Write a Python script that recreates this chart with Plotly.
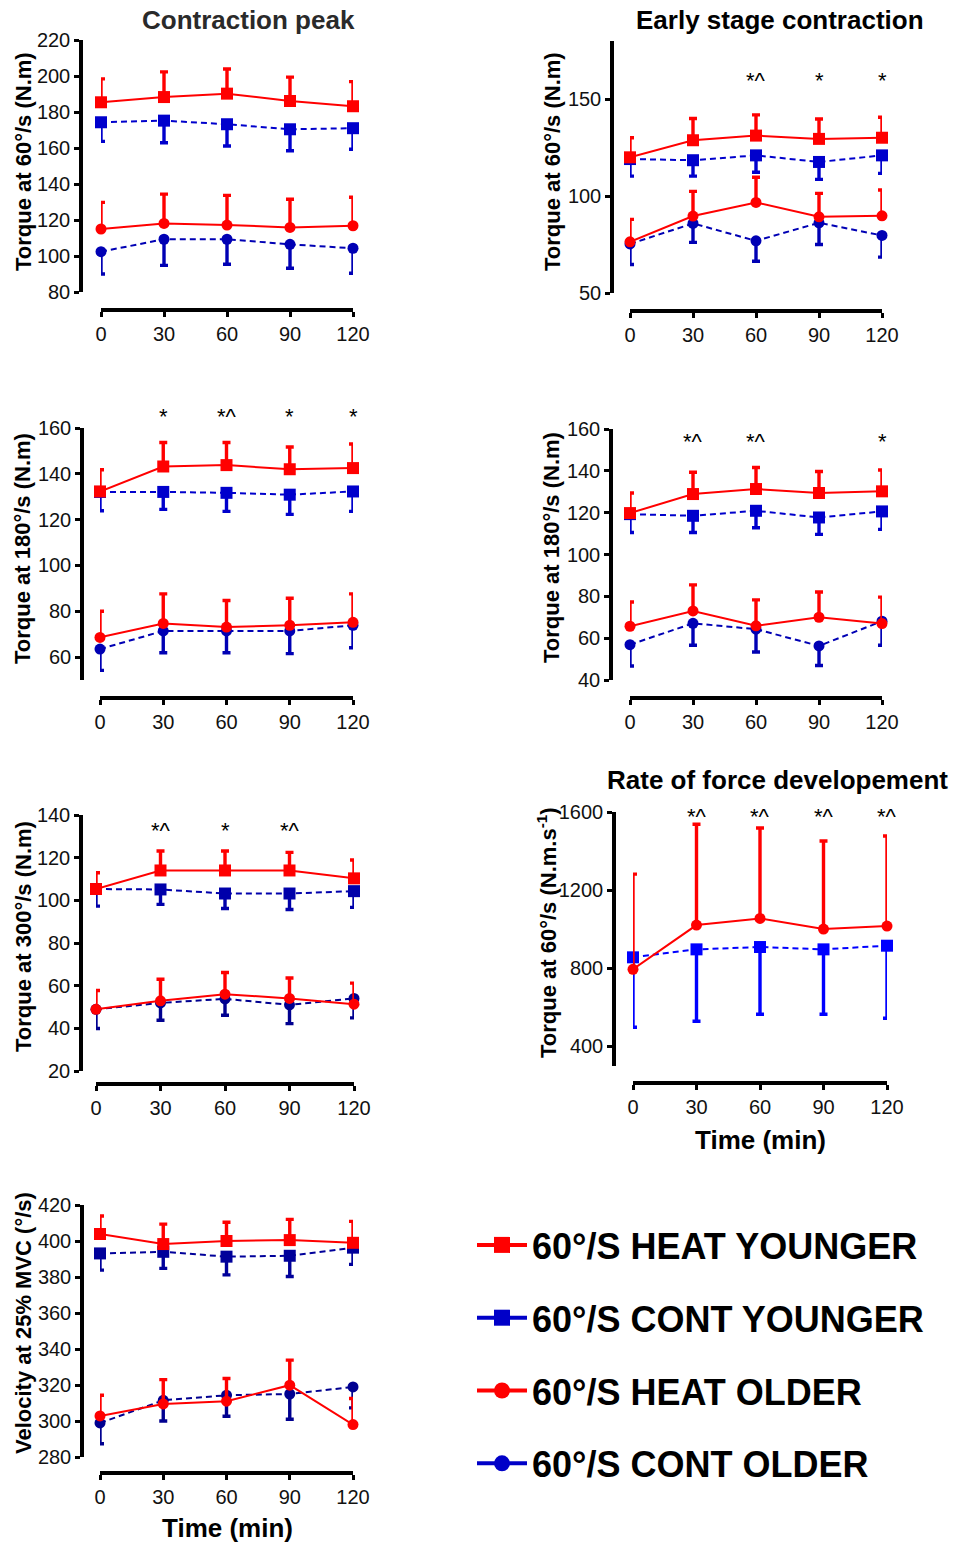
import plotly.graph_objects as go

W, H = 953, 1544
FONT = "Arial, Liberation Sans, Helvetica, sans-serif"

# ---------------- data ----------------
TIME = [0, 30, 60, 90, 120]
XTICKS = [0, 30, 60, 90, 120]

# Panel 1: Contraction peak, torque at 60 deg/s
P1_HY = [185.4, 188.3, 190.2, 186.1, 183.2]
P1_HY_SD = [13.0, 14.0, 13.7, 13.3, 13.7]
P1_CY = [174.3, 175.2, 173.2, 170.4, 171.0]
P1_CY_SD = [10.6, 12.3, 12.1, 11.9, 11.7]
P1_HO = [115.0, 118.1, 117.2, 115.9, 116.8]
P1_HO_SD = [14.8, 16.3, 16.5, 15.6, 15.8]
P1_CO = [102.4, 109.3, 109.3, 106.5, 104.3]
P1_CO_SD = [12.4, 14.5, 13.9, 13.3, 13.9]
P1_YTICKS = [80, 100, 120, 140, 160, 180, 200, 220]

# Panel 2: Early stage contraction, torque at 60 deg/s
P2_HY = [120.0, 128.8, 131.2, 129.5, 130.1]
P2_HY_SD = [10.1, 11.2, 10.7, 10.3, 10.6]
P2_CY = [119.1, 118.5, 121.0, 117.6, 121.0]
P2_CY_SD = [8.8, 8.2, 8.7, 9.0, 9.3]
P2_HO = [76.4, 89.7, 96.7, 89.3, 89.8]
P2_HO_SD = [11.6, 12.7, 13.0, 12.1, 13.3]
P2_CO = [75.3, 85.9, 76.9, 86.2, 79.7]
P2_CO_SD = [10.6, 9.8, 10.5, 11.2, 11.2]
P2_YTICKS = [50, 100, 150]
P2_SIG = ["", "", "*^", "*", "*"]

# Panel 3: torque at 180 deg/s (contraction peak)
P3_HY = [132.3, 143.2, 143.8, 142.0, 142.5]
P3_HY_SD = [9.5, 10.5, 9.9, 9.7, 10.5]
P3_CY = [132.1, 132.1, 131.7, 130.9, 132.3]
P3_CY_SD = [8.2, 7.6, 8.1, 8.6, 8.7]
P3_HO = [68.6, 74.7, 73.1, 73.9, 75.2]
P3_HO_SD = [11.4, 12.9, 11.6, 11.8, 12.4]
P3_CO = [63.5, 71.4, 71.4, 71.4, 73.9]
P3_CO_SD = [9.3, 9.5, 9.5, 9.9, 9.8]
P3_YTICKS = [60, 80, 100, 120, 140, 160]
P3_SIG = ["", "*", "*^", "*", "*"]

# Panel 4: torque at 180 deg/s (early stage)
P4_HY = [119.8, 128.9, 131.3, 129.4, 130.2]
P4_HY_SD = [9.6, 10.4, 10.3, 10.3, 10.2]
P4_CY = [119.3, 118.5, 120.9, 117.7, 120.6]
P4_CY_SD = [8.8, 8.0, 8.1, 8.1, 8.6]
P4_HO = [65.7, 73.0, 65.9, 70.0, 67.0]
P4_HO_SD = [11.6, 12.5, 12.4, 12.1, 12.6]
P4_CO = [56.9, 67.1, 64.3, 56.3, 68.1]
P4_CO_SD = [10.2, 10.5, 10.9, 9.4, 11.5]
P4_YTICKS = [40, 60, 80, 100, 120, 140, 160]
P4_SIG = ["", "*^", "*^", "", "*"]

# Panel 5: torque at 300 deg/s
P5_HY = [105.3, 114.0, 114.0, 114.0, 110.3]
P5_HY_SD = [7.6, 9.1, 9.1, 8.5, 8.6]
P5_CY = [105.3, 105.1, 103.2, 103.2, 104.3]
P5_CY_SD = [8.0, 7.0, 7.0, 7.5, 7.6]
P5_HO = [48.9, 52.9, 56.0, 54.0, 51.3]
P5_HO_SD = [8.8, 10.1, 10.2, 9.6, 9.9]
P5_CO = [48.9, 51.9, 53.8, 51.0, 54.0]
P5_CO_SD = [9.0, 8.1, 7.7, 8.8, 9.1]
P5_YTICKS = [20, 40, 60, 80, 100, 120, 140]
P5_SIG = ["", "*^", "*", "*^", ""]

# Panel 6: rate of force development
P6_HO = [794.9, 1021.3, 1055.3, 1000.9, 1016.2]
P6_HO_SD = [487, 516, 463, 451, 461]
P6_CY = [856.2, 897.0, 908.9, 897.0, 915.7]
P6_CY_SD = [357.5, 367.6, 343.8, 331.9, 371.0]
P6_YTICKS = [400, 800, 1200, 1600]
P6_SIG = ["", "*^", "*^", "*^", "*^"]

# Panel 7: velocity at 25% MVC
P7_HY = [403.9, 398.3, 400.0, 400.5, 399.0]
P7_HY_SD = [10.0, 11.1, 10.4, 11.5, 11.9]
P7_CY = [393.1, 394.0, 391.3, 391.8, 396.3]
P7_CY_SD = [9.3, 9.2, 10.1, 11.5, 9.3]
P7_HO = [302.8, 309.5, 311.0, 319.9, 298.0]
P7_HO_SD = [11.5, 13.5, 12.6, 13.9, 14.5]
P7_CO = [298.9, 311.5, 314.3, 315.0, 318.9]
P7_CO_SD = [11.5, 11.5, 11.7, 14.0, 11.6]
P7_YTICKS = [280, 300, 320, 340, 360, 380, 400, 420]

LEGEND_NAMES = {
    "HY": "60°/S HEAT YOUNGER",
    "CY": "60°/S CONT YOUNGER",
    "HO": "60°/S HEAT OLDER",
    "CO": "60°/S CONT OLDER",
}

# ---------------- styles ----------------
RED = "#FF0000"
BLUE_Y = "#0000CC"
BLUE_O = "#0000B4"
NAVY = "#000090"
BRIGHT_BLUE = "#0000FF"


def style(kind, blue_y=BLUE_Y, blue_o=BLUE_O):
    if kind == "HY":
        return dict(color=RED, dash="solid", symbol="square", up=True, size=12)
    if kind == "CY":
        return dict(color=blue_y, dash="dash", symbol="square", up=False, size=12)
    if kind == "HO":
        return dict(color=RED, dash="solid", symbol="circle", up=True, size=11)
    return dict(color=blue_o, dash="dash", symbol="circle", up=False, size=11)


def px_x(p):
    return p / W


def px_y(p):
    return 1 - p / H


panels = [
    dict(series=[("CO", P1_CO, P1_CO_SD), ("CY", P1_CY, P1_CY_SD),
                 ("HO", P1_HO, P1_HO_SD), ("HY", P1_HY, P1_HY_SD)],
         yrange=[80, 220], yticks=P1_YTICKS, xdom=(101, 353), ydom=(40, 292),
         yline=81, xline=310, sig=None, sig_y=None,
         ylabel="Torque at 60°/s (N.m)", ylab_xy=(23, 162)),
    dict(series=[("CO", P2_CO, P2_CO_SD), ("CY", P2_CY, P2_CY_SD),
                 ("HO", P2_HO, P2_HO_SD), ("HY", P2_HY, P2_HY_SD)],
         yrange=[50, 180], yticks=P2_YTICKS, xdom=(630, 882), ydom=(41, 293),
         yline=612, xline=311, sig=P2_SIG, sig_y=78,
         ylabel="Torque at 60°/s (N.m)", ylab_xy=(552, 162)),
    dict(series=[("CO", P3_CO, P3_CO_SD), ("CY", P3_CY, P3_CY_SD),
                 ("HO", P3_HO, P3_HO_SD), ("HY", P3_HY, P3_HY_SD)],
         yrange=[50, 160], yticks=P3_YTICKS, xdom=(100, 353), ydom=(428, 680),
         yline=82, xline=698, sig=P3_SIG, sig_y=413,
         ylabel="Torque at 180°/s (N.m)", ylab_xy=(23, 549)),
    dict(series=[("CO", P4_CO, P4_CO_SD), ("CY", P4_CY, P4_CY_SD),
                 ("HO", P4_HO, P4_HO_SD), ("HY", P4_HY, P4_HY_SD)],
         yrange=[40, 160], yticks=P4_YTICKS, xdom=(630, 882), ydom=(429, 680),
         yline=611, xline=698, sig=P4_SIG, sig_y=438,
         ylabel="Torque at 180°/s (N.m)", ylab_xy=(552, 548)),
    dict(series=[("CO", P5_CO, P5_CO_SD), ("CY", P5_CY, P5_CY_SD),
                 ("HO", P5_HO, P5_HO_SD), ("HY", P5_HY, P5_HY_SD)],
         yrange=[20, 140], yticks=P5_YTICKS, xdom=(96, 354), ydom=(815, 1071),
         yline=81, xline=1084, sig=P5_SIG, sig_y=827,
         ylabel="Torque at 300°/s (N.m)", ylab_xy=(23, 937),
         blue_y="#0000AA", blue_o=NAVY),
    dict(series=[("CY", P6_CY, P6_CY_SD), ("HO", P6_HO, P6_HO_SD)],
         yrange=[300, 1600], yticks=P6_YTICKS, xdom=(633, 887), ydom=(812, 1066),
         yline=614, xline=1083, sig=P6_SIG, sig_y=813,
         ylabel="Torque at 60°/s (N.m.s<sup>-1</sup>)", ylab_xy=(547, 933),
         blue_y=BRIGHT_BLUE, blue_o=BRIGHT_BLUE),
    dict(series=[("CO", P7_CO, P7_CO_SD), ("CY", P7_CY, P7_CY_SD),
                 ("HO", P7_HO, P7_HO_SD), ("HY", P7_HY, P7_HY_SD)],
         yrange=[280, 420], yticks=P7_YTICKS, xdom=(100, 353), ydom=(1205, 1457),
         yline=82, xline=1473, sig=None, sig_y=None,
         ylabel="Velocity at 25% MVC (°/s)", ylab_xy=(23, 1323),
         blue_y="#00009A", blue_o=NAVY),
]

fig = go.Figure()
annotations = []
layout_axes = {}

for i, p in enumerate(panels, start=1):
    xa = "x" if i == 1 else f"x{i}"
    ya = "y" if i == 1 else f"y{i}"
    for kind, vals, sd in p["series"]:
        s = style(kind, p.get("blue_y", BLUE_Y), p.get("blue_o", BLUE_O))
        zeros = [0] * len(sd)
        err = dict(type="data", symmetric=False,
                   array=sd if s["up"] else zeros,
                   arrayminus=zeros if s["up"] else sd,
                   color=s["color"], thickness=3.4, width=4)
        fig.add_trace(go.Scatter(
            x=TIME, y=vals, xaxis=xa, yaxis=ya, mode="lines+markers",
            line=dict(color=s["color"], width=2, dash="solid" if s["dash"] == "solid" else "6px,4px"),
            marker=dict(color=s["color"], symbol=s["symbol"], size=s["size"]),
            error_y=err, cliponaxis=False, showlegend=False, hoverinfo="skip"))
    axn = "" if i == 1 else str(i)
    layout_axes[f"xaxis{axn}"] = dict(
        domain=[px_x(p["xdom"][0]), px_x(p["xdom"][1])], range=[0, 120],
        anchor="free", position=px_y(p["xline"]), automargin=False,
        showline=True, linewidth=3.5, linecolor="black", ticks="outside",
        ticklen=5, tickwidth=3, tickcolor="black", tickvals=XTICKS,
        tickfont=dict(size=20, color="#111", family=FONT),
        showgrid=False, zeroline=False, fixedrange=True)
    layout_axes[f"yaxis{axn}"] = dict(
        domain=[px_y(p["ydom"][1]), px_y(p["ydom"][0])], range=p["yrange"],
        anchor="free", position=px_x(p["yline"]), automargin=False,
        showline=True, linewidth=3.5, linecolor="black", ticks="outside",
        ticklen=5, tickwidth=3, tickcolor="black", tickvals=p["yticks"],
        tickfont=dict(size=20, color="#111", family=FONT),
        showgrid=False, zeroline=False, fixedrange=True)
    annotations.append(dict(
        text=f"<b>{p['ylabel']}</b>", x=px_x(p["ylab_xy"][0]), y=px_y(p["ylab_xy"][1]),
        xref="paper", yref="paper", textangle=-90, showarrow=False,
        xanchor="center", yanchor="middle", font=dict(size=22, color="black", family=FONT)))
    if p["sig"]:
        for t, lab in zip(TIME, p["sig"]):
            if lab:
                annotations.append(dict(
                    text=lab, x=t, xref=xa, y=px_y(p["sig_y"] + 3), yref="paper",
                    showarrow=False, xanchor="center", yanchor="middle",
                    font=dict(size=22, color="black", family=FONT)))

for txt, cx, cy, col in [("Contraction peak", 248, 20, "#2a2a2a"),
                         ("Early stage contraction", 780, 20, "black"),
                         ("Rate of force developement", 777, 780, "black")]:
    annotations.append(dict(text=f"<b>{txt}</b>", x=px_x(cx), y=px_y(cy), xref="paper", yref="paper",
                            showarrow=False, xanchor="center", yanchor="middle",
                            font=dict(size=26, color=col, family=FONT)))
for cx, cy in [(760, 1140), (227, 1528)]:
    annotations.append(dict(text="<b>Time (min)</b>", x=px_x(cx), y=px_y(cy), xref="paper", yref="paper",
                            showarrow=False, xanchor="center", yanchor="middle",
                            font=dict(size=26, color="black", family=FONT)))

for kind in ["HY", "CY", "HO", "CO"]:
    s = style(kind, "#0000C8", "#0000C8")
    fig.add_trace(go.Scatter(
        x=[None], y=[None], mode="lines+markers", name=LEGEND_NAMES[kind],
        legendgroup=kind, line=dict(color=s["color"], width=4),
        marker=dict(color=s["color"], symbol=s["symbol"], size=18), showlegend=True))

fig.update_layout(
    width=W, height=H, autosize=False,
    margin=dict(l=0, r=0, t=0, b=0, pad=0, autoexpand=False),
    paper_bgcolor="white", plot_bgcolor="white",
    font=dict(family=FONT, color="black"),
    showlegend=True,
    legend=dict(x=px_x(472), y=px_y(1215), xanchor="left", yanchor="top",
                font=dict(size=36, color="black", family=FONT, weight="bold"),
                tracegroupgap=23, itemsizing="trace", itemwidth=50,
                bgcolor="rgba(0,0,0,0)"),
    annotations=annotations,
    **layout_axes)

fig.write_html("out.html", config={"responsive": False, "displayModeBar": False},
               post_script="document.body.style.margin='0';document.body.style.padding='0';")
